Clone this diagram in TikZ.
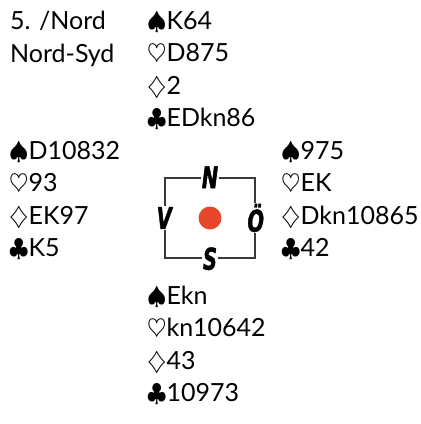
\documentclass[tikz,border=0pt]{standalone}
\usepackage{fontspec}
\setmainfont{Lato}
\newfontfamily\kompassfont[FakeStretch=0.72,FakeBold=1.5]{DejaVu Sans Condensed}
\usepackage{xcolor}
\definecolor{kprod}{HTML}{E8462B}
\definecolor{kpgra}{HTML}{3A3A3A}
\def\radavst{32.6}
\usetikzlibrary{calc,positioning}

\begin{document}
\begin{tikzpicture}[x=1pt,y=1pt,font=\fontsize{25}{29}\selectfont,
	hand/.style={anchor=base west,inner sep=0pt},
	vader/.style={fill=white,inner sep=0.8pt,text=black,font=\kompassfont\bfseries\itshape\fontsize{30}{30}\selectfont}]
	\useasboundingbox (0,0) rectangle (421,-424);
	%%Rubrik
	\path (10,-29) node[hand] (rubrik-1) {5. /Nord}
	(10,-62) node[hand] (rubrik-2) {Nord-Syd};
	%%Nords hand
	\foreach [count=\i from 0] \f/\k in {\spadesuit/K64,\heartsuit/D875,\diamondsuit/2,\clubsuit/EDkn86}{%
		\path (147,-29-\radavst*\i) node[hand] (nord-\i) {$\f$\k};
	}
	%%Västs hand
	\foreach [count=\i from 0] \f/\k in {\spadesuit/D10832,\heartsuit/93,\diamondsuit/EK97,\clubsuit/K5}{%
		\path (9,-159-\radavst*\i) node[hand] (vast-\i) {$\f$\k};
	}
	%%Östs hand
	\foreach [count=\i from 0] \f/\k in {\spadesuit/975,\heartsuit/EK,\diamondsuit/Dkn10865,\clubsuit/42}{%
		\path (281,-159-\radavst*\i) node[hand] (ost-\i) {$\f$\k};
	}
	%%Syds hand
	\foreach [count=\i from 0] \f/\k in {\spadesuit/Ekn,\heartsuit/kn10642,\diamondsuit/43,\clubsuit/10973}{%
		\path (147,-304-\radavst*\i) node[hand] (syd-\i) {$\f$\k};
	}
	%%Kompassruta
	\node[draw=kpgra,line width=1.5pt,minimum width=90,minimum height=80,inner sep=0pt] (kompass) at (210,-218) {};
	\fill[kprod] (kompass.center) circle (11.5);
	\path (kompass.north) node[vader] (vader-n) {N}
	(kompass.south) node[vader] (vader-s) {S}
	(kompass.west) node[vader] (vader-v) {V}
	(kompass.east) node[vader] (vader-o) {Ö};
\end{tikzpicture}
\end{document}
